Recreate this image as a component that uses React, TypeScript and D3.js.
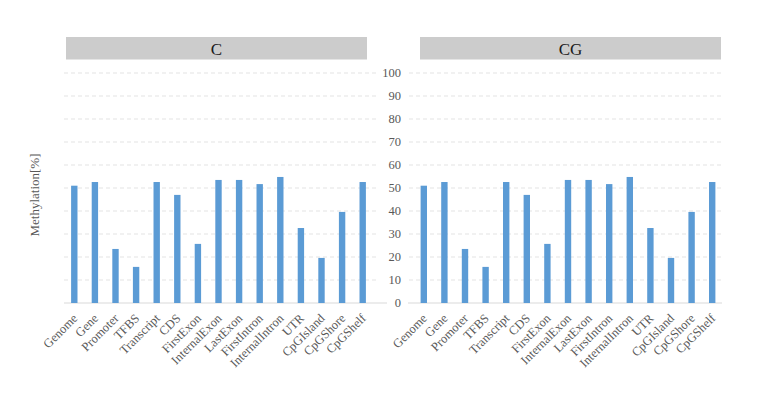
import React from "react";
import * as d3 from "d3";

const categories = ["Genome","Gene","Promoter","TFBS","Transcript","CDS","FirstExon","InternalExon","LastExon","FirstIntron","InternalIntron","UTR","CpGIsland","CpGShore","CpGShelf"];
const valuesC = [51, 52.6, 23.5, 15.7, 52.6, 47, 25.7, 53.5, 53.5, 51.7, 54.8, 32.6, 19.6, 39.6, 52.6];
const valuesCG = [51, 52.6, 23.5, 15.7, 52.6, 47, 25.7, 53.5, 53.5, 51.7, 54.8, 32.6, 19.6, 39.6, 52.6];
const panelTitles = ["C", "CG"];
const yTicks = [0, 10, 20, 30, 40, 50, 60, 70, 80, 90, 100];

const FONT = "'Liberation Serif', 'Times New Roman', serif";
const TXT = "#595959";

export default function App() {
  const y = d3.scaleLinear().domain([0, 100]).range([303, 73]);
  const panels = [
    { title: panelTitles[0], values: valuesC, band: [64, 373], grid: [64, 379], axis: [64, 387], strip: [66, 367] },
    { title: panelTitles[1], values: valuesCG, band: [413.5, 722.5], grid: [409, 722], axis: [408, 722], strip: [420, 721] },
  ];
  return (
    <svg width={763} height={395} style={{ position: "absolute", left: 0, top: 0, background: "#fff" }}>
      {panels.map((p, pi) => {
        const x = d3.scaleBand().domain(categories).range(p.band as [number, number]).paddingInner(0.69).paddingOuter(0.345);
        return (
          <g key={pi}>
            <rect x={p.strip[0]} y={37} width={p.strip[1] - p.strip[0]} height={22.5} fill="#cccccc" />
            <text x={(p.strip[0] + p.strip[1]) / 2} y={54.5} textAnchor="middle" fontFamily={FONT} fontSize={17} fill="#1a1a1a">{p.title}</text>
            {yTicks.filter(t => t > 0).map(t => (
              <line key={t} x1={p.grid[0]} x2={p.grid[1]} y1={y(t)} y2={y(t)} stroke="#e3e3e3" strokeWidth={1} strokeDasharray="4,3" />
            ))}
            <line x1={p.axis[0]} x2={p.axis[1]} y1={y(0)} y2={y(0)} stroke="#d9d9d9" strokeWidth={1} />
            {categories.map((c, i) => (
              <rect key={c} x={x(c)!} y={y(p.values[i])} width={x.bandwidth()} height={y(0) - y(p.values[i])} fill="#5b9bd5" />
            ))}
            {categories.map((c) => {
              const cx = x(c)! + x.bandwidth() / 2;
              return (
                <text key={c} transform={`translate(${cx + 4},${319}) rotate(-45)`} textAnchor="end" fontFamily={FONT} fontSize={12.5} fill={TXT}>{c}</text>
              );
            })}
          </g>
        );
      })}
      {yTicks.map(t => (
        <text key={t} x={401} y={y(t)} dy="0.35em" textAnchor="end" fontFamily={FONT} fontSize={12.5} fill={TXT}>{t}</text>
      ))}
      <text transform={`translate(39,195) rotate(-90)`} textAnchor="middle" fontFamily={FONT} fontSize={13} fill={TXT}>Methylation[%]</text>
    </svg>
  );
}
